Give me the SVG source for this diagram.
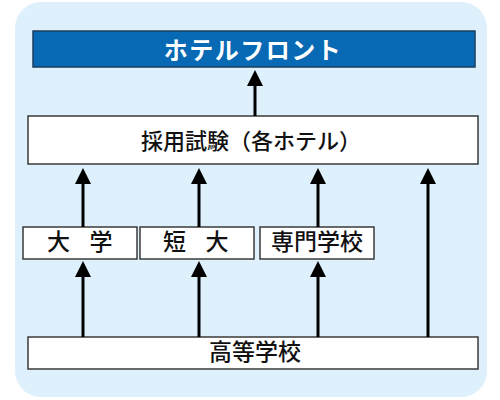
<svg xmlns="http://www.w3.org/2000/svg" width="500" height="400" viewBox="0 0 500 400">
<style>
.box{fill:#ffffff;stroke:#3a3a3a;stroke-width:1.5}
.lbl{font-family:"Noto Sans CJK JP","Noto Sans CJK SC",sans-serif;font-size:22px;font-weight:500;fill:#111;text-anchor:middle}
.ln{stroke:#000;stroke-width:3;fill:none}
</style>
<defs>
<marker id="ah" viewBox="0 0 16 16" markerWidth="16" markerHeight="16" refX="1" refY="8" orient="auto" markerUnits="userSpaceOnUse">
<path d="M0,0 L16,8 L0,16 Z" fill="#000"/>
</marker>
</defs>
<rect x="15" y="2" width="472" height="395" rx="26" ry="26" fill="#def0fc"/>
<g id="front">
<rect x="33" y="31" width="442" height="36" fill="#0869b5" stroke="#1d3d5e" stroke-width="1.5"/>
<text x="253" y="59" class="lbl" style="fill:#fff;font-weight:bold;font-size:24px;letter-spacing:1.5px">ホテルフロント</text>
</g>
<g id="exam">
<rect class="box" x="28" y="116" width="450" height="48"/>
<text x="251" y="149" class="lbl">採用試験（各ホテル）</text>
</g>
<g id="univ">
<rect class="box" x="23" y="227" width="114" height="32"/>
<text y="250" class="lbl" style="font-size:23px"><tspan x="61">大</tspan> <tspan x="101">学</tspan></text>
</g>
<g id="junior">
<rect class="box" x="140" y="227" width="114" height="32"/>
<text y="250" class="lbl" style="font-size:23px"><tspan x="177">短</tspan> <tspan x="217">大</tspan></text>
</g>
<g id="vocational">
<rect class="box" x="260" y="227" width="114" height="32"/>
<text x="317" y="250" class="lbl" style="font-size:23px">専門学校</text>
</g>
<g id="high">
<rect class="box" x="28" y="337" width="450" height="32"/>
<text x="255" y="360" class="lbl" style="font-size:23px">高等学校</text>
</g>
<g id="connectors">
<line class="ln" x1="255" y1="116" x2="255" y2="85" marker-end="url(#ah)"/>
<line class="ln" x1="83" y1="227" x2="83" y2="183" marker-end="url(#ah)"/>
<line class="ln" x1="199" y1="227" x2="199" y2="183" marker-end="url(#ah)"/>
<line class="ln" x1="318" y1="227" x2="318" y2="183" marker-end="url(#ah)"/>
<line class="ln" x1="428" y1="337" x2="428" y2="183" marker-end="url(#ah)"/>
<line class="ln" x1="83" y1="337" x2="83" y2="276" marker-end="url(#ah)"/>
<line class="ln" x1="199" y1="337" x2="199" y2="276" marker-end="url(#ah)"/>
<line class="ln" x1="318" y1="337" x2="318" y2="276" marker-end="url(#ah)"/>
</g>
</svg>
